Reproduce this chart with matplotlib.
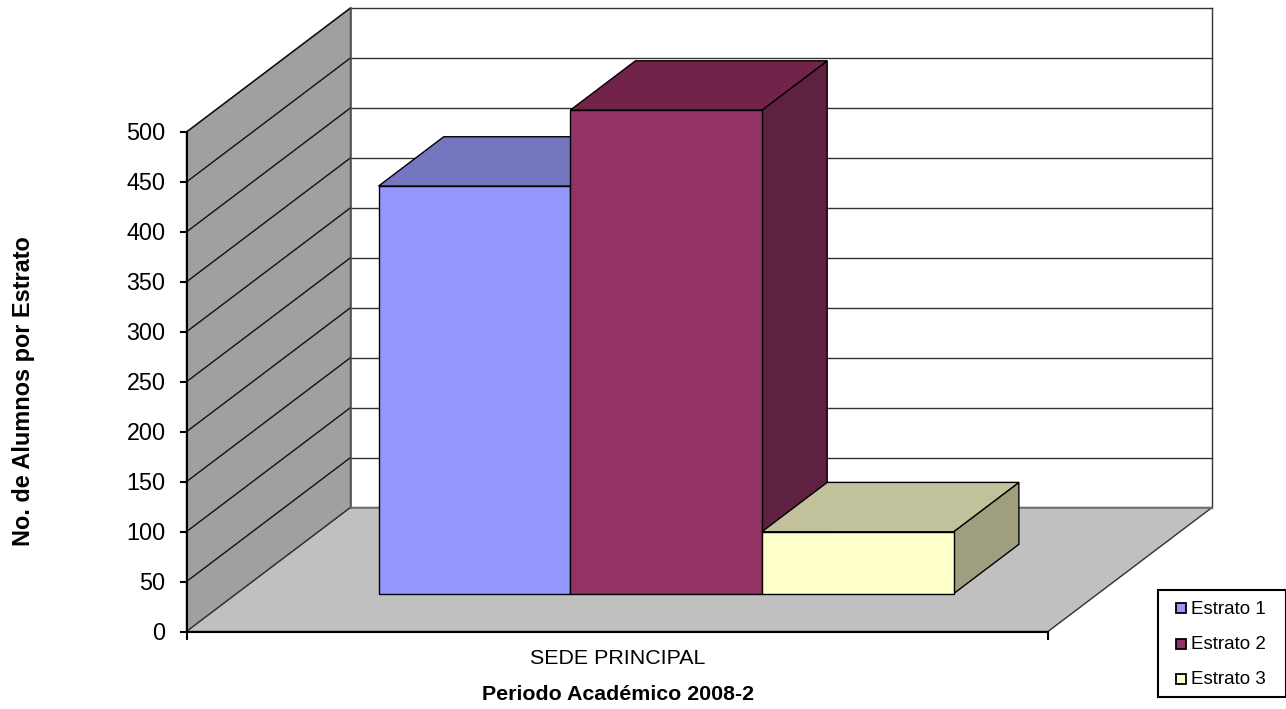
import matplotlib
matplotlib.use('Agg')
import matplotlib.pyplot as plt
from matplotlib.patches import Polygon, Rectangle

plt.rcParams['font.family'] = ['Liberation Sans', 'DejaVu Sans']

# Data
estratos = ['Estrato 1', 'Estrato 2', 'Estrato 3']
alumnos = [408, 484, 62]
colores = ['#9696FF', '#933363', '#FFFFCC']
colores_top = ['#7575C0', '#722349', '#C1C19B']
colores_side = ['#5F5FA0', '#5F2140', '#9F9F80']
ticks = [0, 50, 100, 150, 200, 250, 300, 350, 400, 450, 500]
y_max_grid = 500
categoria = 'SEDE PRINCIPAL'

# Oblique projection, pixels of the picture
X0, Y0 = 186.5, 631.5
WIDTH = 861.5
PX_PER_UNIT = 0.999
DX, DY = 164, -124
BAR_X0 = 142.0 / WIDTH
BAR_W = 191.7 / WIDTH
DEPTH0, DEPTH1 = 0.305, 0.703


def proj(x, v, d):
    # x: 0-1 across, v: value, d: 0-1 depth
    return (X0 + x * WIDTH + d * DX, Y0 - v * PX_PER_UNIT + d * DY)


def poly(ax, pts, fc, ec='black', lw=1.0, z=1):
    ax.add_patch(Polygon(pts, closed=True, fc=fc, ec=ec, lw=lw, zorder=z))


fig = plt.figure(figsize=(12.86, 7.09), dpi=100)
ax = fig.add_axes([0, 0, 1, 1])
ax.set_xlim(0, 1286)
ax.set_ylim(709, 0)
ax.axis('off')

# Walls and floor
poly(ax, [proj(0, 0, 0), proj(0, y_max_grid, 0), proj(0, y_max_grid, 1), proj(0, 0, 1)],
     '#A0A0A0', ec='#404040', lw=1.0)
poly(ax, [proj(0, 0, 0), proj(1, 0, 0), proj(1, 0, 1), proj(0, 0, 1)],
     '#C0C0C0', ec='#303030', lw=1.0)

# Gridlines, left wall and back wall
for t in ticks[1:]:
    a, b, c = proj(0, t, 0), proj(0, t, 1), proj(1, t, 1)
    ax.plot([a[0], b[0]], [a[1], b[1]], color='#111111', lw=1.0, zorder=2)
    ax.plot([b[0], c[0]], [b[1], c[1]], color='#333333', lw=1.0, zorder=2)
a, b = proj(1, 0, 1), proj(1, y_max_grid, 1)
ax.plot([a[0], b[0]], [a[1], b[1]], color='#333333', lw=1.0, zorder=2)
a, b = proj(0, 0, 1), proj(0, y_max_grid, 1)
ax.plot([a[0], b[0]], [a[1], b[1]], color='#555555', lw=1.2, zorder=2)
a, b = proj(0, 0, 1), proj(1, 0, 1)
ax.plot([a[0], b[0]], [a[1], b[1]], color='#777777', lw=1.2, zorder=2)

# Bars
for i, v in enumerate(alumnos):
    x0 = BAR_X0 + i * BAR_W
    x1 = x0 + BAR_W
    z = 3 + i
    poly(ax, [proj(x1, 0, DEPTH0), proj(x1, v, DEPTH0), proj(x1, v, DEPTH1), proj(x1, 0, DEPTH1)],
         colores_side[i], z=z)
    poly(ax, [proj(x0, v, DEPTH0), proj(x1, v, DEPTH0), proj(x1, v, DEPTH1), proj(x0, v, DEPTH1)],
         colores_top[i], z=z)
    poly(ax, [proj(x0, 0, DEPTH0), proj(x1, 0, DEPTH0), proj(x1, v, DEPTH0), proj(x0, v, DEPTH0)],
         colores[i], z=z + 0.5)

# Axes lines and ticks
a, b = proj(0, 0, 0), proj(0, y_max_grid, 0)
ax.plot([a[0], b[0]], [a[1], b[1]], color='black', lw=1.5, zorder=8)
a, b = proj(0, 0, 0), proj(1, 0, 0)
ax.plot([a[0], b[0]], [a[1], b[1]], color='black', lw=1.5, zorder=8)
for x in [0, 1]:
    p = proj(x, 0, 0)
    ax.plot([p[0], p[0]], [p[1], p[1] + 7], color='black', lw=1.5, zorder=8)
for t in ticks:
    p = proj(0, t, 0)
    ax.plot([p[0] - 6, p[0]], [p[1], p[1]], color='black', lw=1.5, zorder=8)
    ax.text(p[0] - 21, p[1] + 1.5, str(t), ha='right', va='center', fontsize=16.8, color='black')

# Labels
ax.text(617.5, 658, categoria, ha='center', va='center', fontsize=15.4, color='black')
ax.text(617.5, 694.5, 'Periodo Académico 2008-2', ha='center', va='center',
        fontsize=15.4, fontweight='bold', color='black')
ax.text(24, 391.5, 'No. de Alumnos por Estrato', ha='center', va='center', rotation=90,
        fontsize=16.9, fontweight='bold', color='black')

# Legend
ax.add_patch(Rectangle((1158, 590), 127.5, 106.5, fc='white', ec='black', lw=1.5, zorder=9))
for i, nombre in enumerate(estratos):
    y = 608 + i * 35.5
    ax.add_patch(Rectangle((1176, y - 5), 9.5, 10, fc=colores[i], ec='black', lw=1.3, zorder=10))
    ax.text(1191, y + 1, nombre, ha='left', va='center', fontsize=13.5, color='black', zorder=10)

fig.savefig('out.png', dpi=100)
